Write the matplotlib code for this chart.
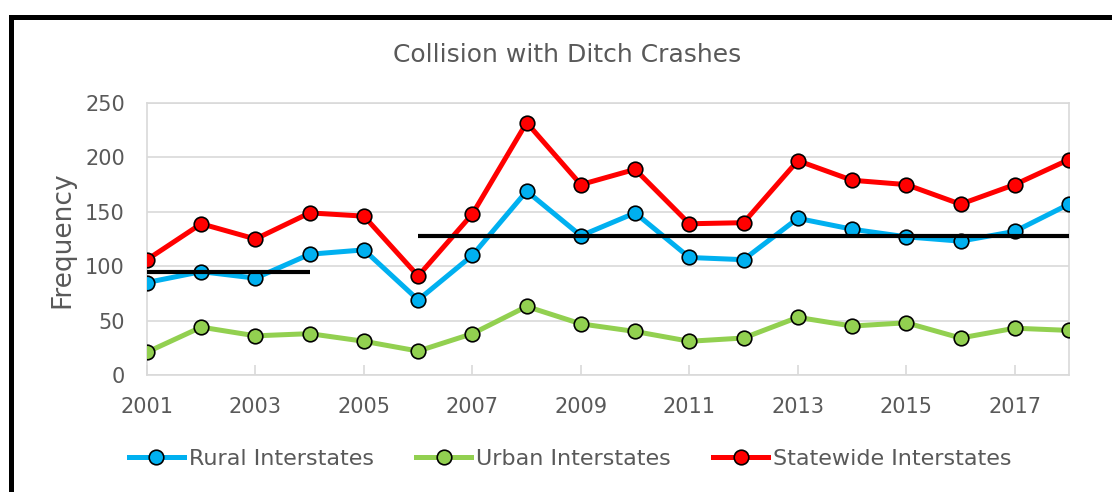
import numpy as np
import matplotlib.pyplot as plt
from matplotlib import patches

# Data
years = list(range(2001, 2019))
rural = [85, 95, 89, 111, 115, 69, 110, 169, 128, 149, 108, 106, 144, 134, 127, 123, 132, 157]
urban = [21, 44, 36, 38, 31, 22, 38, 63, 47, 40, 31, 34, 53, 45, 48, 34, 43, 41]
statewide = [106, 139, 125, 149, 146, 91, 148, 232, 175, 189, 139, 140, 197, 179, 175, 157, 175, 198]
# rural-interstate average before / after 2006
level_spans = [(2001, 2004), (2006, 2018)]

BLUE = '#00B0F0'
GREEN = '#92D050'
RED = '#FF0000'
GRID = '#D9D9D9'
TEXT = '#595959'

plt.rcParams['font.family'] = ['DejaVu Sans']

fig = plt.figure(figsize=(11.12, 4.92), dpi=100)
W, H = 1112, 492
ax = fig.add_axes([147 / W, 1 - 375 / H, (1069 - 147) / W, (375 - 103) / H])

series = [(rural, BLUE, 'Rural Interstates'),
          (urban, GREEN, 'Urban Interstates'),
          (statewide, RED, 'Statewide Interstates')]
handles = []
for vals, col, name in series:
    h, = ax.plot(years, vals, color=col, lw=3.6, marker='o', ms=10.5,
                 mfc=col, mec='black', mew=1.2, label=name, zorder=3)
    handles.append(h)

# average level lines
yr = np.array(years)
rv = np.array(rural)
for a, b in level_spans:
    m = rv[(yr >= a) & (yr <= b)].mean()
    ax.plot([a, b], [m, m], color='black', lw=3, solid_capstyle='butt', zorder=4)

ax.set_xlim(2001, 2018)
ax.set_ylim(0, 250)
ax.set_yticks(range(0, 251, 50))
ax.set_xticks(range(2001, 2018, 2))
ax.grid(axis='y', color=GRID, lw=1.2)
ax.set_axisbelow(True)
for s in ax.spines.values():
    s.set_color(GRID)
    s.set_linewidth(1.2)
ax.tick_params(axis='y', length=0, pad=16, labelsize=15, labelcolor=TEXT)
ax.tick_params(axis='x', direction='in', length=7, color=GRID, width=1.2,
               pad=16, labelsize=15, labelcolor=TEXT)

fig.text(567 / W, 1 - 55 / H, 'Collision with Ditch Crashes', ha='center',
         va='center', fontsize=18, color=TEXT)
fig.text(62 / W, 1 - 240 / H, 'Frequency', ha='center', va='center',
         rotation=90, fontsize=19, color=TEXT)

fig.legend(handles=handles, loc='center', bbox_to_anchor=(570 / W, 1 - 459 / H),
           ncol=3, frameon=False, fontsize=16, labelcolor=TEXT,
           handlelength=2.5, handletextpad=0.2, columnspacing=1.9)

# outer chart border (cropped at right and bottom)
fig.patches.append(patches.Rectangle((10.5 / W, -0.1), 1.2, 1 - 16.5 / H + 0.1,
                                     transform=fig.transFigure, fill=False,
                                     lw=3.6, ec='black'))

fig.savefig('out.png', dpi=100)
